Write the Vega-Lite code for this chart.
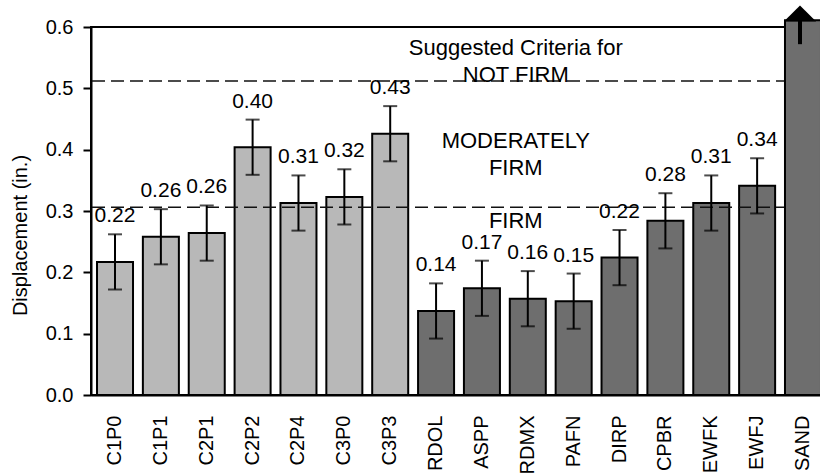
{
  "$schema": "https://vega.github.io/schema/vega-lite/v6.json",
  "width": 736,
  "height": 368,
  "autosize": {"type": "none"},
  "padding": {"left": 91, "top": 27, "right": 0, "bottom": 79},
  "background": "white",
  "config": {
    "view": {"stroke": "black", "strokeWidth": 2},
    "font": "Liberation Sans",
    "style": {"guide-title": {"fontSize": 20, "fontWeight": "normal", "font": "Liberation Sans", "fill": "black"}},
    "axis": {
      "labelFont": "Liberation Sans",
      "titleFont": "Liberation Sans",
      "titleFontSize": 20,
      "titleFontWeight": "normal",
      "labelColor": "black",
      "titleColor": "black",
      "domainColor": "black",
      "tickColor": "black",
      "domainWidth": 2,
      "labelFontSize": 20,
      "grid": false
    },
    "axisX": {"labelAngle": -90, "labelAlign": "right", "labelBaseline": "middle", "ticks": false, "tickSize": 0, "labelPadding": 20},
    "axisY": {"tickSize": 8, "tickWidth": 2, "labelPadding": 10, "titleFontSize": 20}
  },
  "datasets": {
    "bars": [
      {"cat": "C1P0", "v": 0.217, "lo": 0.172, "hi": 0.262, "kind": "hatch"},
      {"cat": "C1P1", "v": 0.258, "lo": 0.213, "hi": 0.303, "kind": "hatch"},
      {"cat": "C2P1", "v": 0.264, "lo": 0.219, "hi": 0.309, "kind": "hatch"},
      {"cat": "C2P2", "v": 0.404, "lo": 0.359, "hi": 0.449, "kind": "hatch"},
      {"cat": "C2P4", "v": 0.313, "lo": 0.268, "hi": 0.358, "kind": "hatch"},
      {"cat": "C3P0", "v": 0.323, "lo": 0.278, "hi": 0.368, "kind": "hatch"},
      {"cat": "C3P3", "v": 0.426, "lo": 0.381, "hi": 0.471, "kind": "hatch"},
      {"cat": "RDOL", "v": 0.137, "lo": 0.092, "hi": 0.182, "kind": "cross"},
      {"cat": "ASPP", "v": 0.174, "lo": 0.129, "hi": 0.219, "kind": "cross"},
      {"cat": "RDMX", "v": 0.157, "lo": 0.112, "hi": 0.202, "kind": "cross"},
      {"cat": "PAFN", "v": 0.153, "lo": 0.108, "hi": 0.198, "kind": "cross"},
      {"cat": "DIRP", "v": 0.224, "lo": 0.179, "hi": 0.269, "kind": "cross"},
      {"cat": "CPBR", "v": 0.284, "lo": 0.239, "hi": 0.329, "kind": "cross"},
      {"cat": "EWFK", "v": 0.313, "lo": 0.268, "hi": 0.358, "kind": "cross"},
      {"cat": "EWFJ", "v": 0.341, "lo": 0.296, "hi": 0.386, "kind": "cross"},
      {"cat": "SAND", "v": 0.611, "lo": null, "hi": null, "kind": "cross"}
    ],
    "lines": [{"y": 0.512}, {"y": 0.306}],
    "notes": [
      {"cat": "RDMX", "y": 0.566, "t": "Suggested Criteria for"},
      {"cat": "RDMX", "y": 0.521, "t": "NOT FIRM"},
      {"cat": "RDMX", "y": 0.414, "t": "MODERATELY"},
      {"cat": "RDMX", "y": 0.37, "t": "FIRM"},
      {"cat": "RDMX", "y": 0.283, "t": "FIRM"}
    ],
    "arrow": [{"cat": "SAND", "a1": 0.572, "a2": 0.615, "tip": 0.622}]
  },
  "layer": [
    {
      "data": {"name": "bars"},
      "transform": [{"filter": "datum.cat !== 'SAND'"}],
      "mark": {"type": "bar", "stroke": "black", "strokeWidth": 2},
      "encoding": {
        "x": {"field": "cat", "type": "nominal", "sort": null, "title": null,
              "scale": {"paddingInner": 0.215, "paddingOuter": 0.131}},
        "y": {"field": "v", "type": "quantitative", "title": "Displacement (in.)",
              "scale": {"domain": [0, 0.6], "nice": false, "zero": true},
              "axis": {"values": [0, 0.1, 0.2, 0.3, 0.4, 0.5, 0.6], "format": ".1f",
                       "titleFontSize": 20, "titleFontWeight": "normal", "titlePadding": 15,
                       "titleY": 208,
                       "titleFont": "Liberation Sans", "titleColor": "black"}},
        "fill": {"field": "kind", "type": "nominal", "legend": null,
                 "scale": {"domain": ["hatch", "cross"], "range": ["#b8b8b8", "#6e6e6e"]}}
      }
    },
    {
      "data": {"name": "lines"},
      "mark": {"type": "rule", "strokeDash": [13, 6], "strokeWidth": 1.5, "color": "#111111"},
      "encoding": {
        "y": {"field": "y", "type": "quantitative", "title": "Displacement (in.)", "scale": {"domain": [0, 0.6], "nice": false}}
      }
    },
    {
      "data": {"name": "bars"},
      "transform": [{"filter": "datum.cat === 'SAND'"}],
      "mark": {"type": "bar", "stroke": "black", "strokeWidth": 2},
      "encoding": {
        "x": {"field": "cat", "type": "nominal", "sort": null, "title": null},
        "y": {"field": "v", "type": "quantitative", "title": "Displacement (in.)", "scale": {"domain": [0, 0.6], "nice": false}},
        "fill": {"field": "kind", "type": "nominal", "legend": null}
      }
    },
    {
      "data": {"name": "bars"},
      "transform": [{"filter": "datum.hi != null"}],
      "mark": {"type": "rule", "color": "black", "strokeWidth": 2},
      "encoding": {
        "x": {"field": "cat", "type": "nominal", "sort": null, "title": null},
        "y": {"field": "lo", "type": "quantitative", "title": "Displacement (in.)", "scale": {"domain": [0, 0.6], "nice": false}},
        "y2": {"field": "hi"}
      }
    },
    {
      "data": {"name": "bars"},
      "transform": [{"filter": "datum.hi != null"}],
      "mark": {"type": "tick", "color": "black", "thickness": 2, "size": 14, "orient": "horizontal"},
      "encoding": {
        "x": {"field": "cat", "type": "nominal", "sort": null, "title": null},
        "y": {"field": "hi", "type": "quantitative", "title": "Displacement (in.)", "scale": {"domain": [0, 0.6], "nice": false}}
      }
    },
    {
      "data": {"name": "bars"},
      "transform": [{"filter": "datum.hi != null"}],
      "mark": {"type": "tick", "color": "black", "thickness": 2, "size": 14, "orient": "horizontal"},
      "encoding": {
        "x": {"field": "cat", "type": "nominal", "sort": null, "title": null},
        "y": {"field": "lo", "type": "quantitative", "title": "Displacement (in.)", "scale": {"domain": [0, 0.6], "nice": false}}
      }
    },
    {
      "data": {"name": "bars"},
      "transform": [{"filter": "datum.hi != null"}],
      "mark": {"type": "text", "fontSize": 21, "dy": -18, "baseline": "middle", "color": "black"},
      "encoding": {
        "x": {"field": "cat", "type": "nominal", "sort": null, "title": null},
        "y": {"field": "hi", "type": "quantitative", "title": "Displacement (in.)", "scale": {"domain": [0, 0.6], "nice": false}},
        "text": {"field": "v", "type": "quantitative", "format": ".2f"}
      }
    },
    {
      "data": {"name": "notes"},
      "mark": {"type": "text", "fontSize": 22, "dx": -12, "baseline": "middle", "color": "black"},
      "encoding": {
        "x": {"field": "cat", "type": "nominal", "sort": null, "title": null},
        "y": {"field": "y", "type": "quantitative", "title": "Displacement (in.)", "scale": {"domain": [0, 0.6], "nice": false}},
        "text": {"field": "t", "type": "nominal"}
      }
    },
    {
      "data": {"name": "arrow"},
      "mark": {"type": "rule", "color": "black", "strokeWidth": 4, "xOffset": -3},
      "encoding": {
        "x": {"field": "cat", "type": "nominal", "sort": null, "title": null},
        "y": {"field": "a1", "type": "quantitative", "title": "Displacement (in.)", "scale": {"domain": [0, 0.6], "nice": false}},
        "y2": {"field": "a2"}
      }
    },
    {
      "data": {"name": "arrow"},
      "mark": {"type": "point", "shape": "M-1,0.5L0,-0.5L1,0.5Z", "filled": true, "color": "black", "size": 1040, "opacity": 1, "xOffset": -3},
      "encoding": {
        "x": {"field": "cat", "type": "nominal", "sort": null, "title": null},
        "y": {"field": "tip", "type": "quantitative", "title": "Displacement (in.)", "scale": {"domain": [0, 0.6], "nice": false}}
      }
    }
  ]
}
